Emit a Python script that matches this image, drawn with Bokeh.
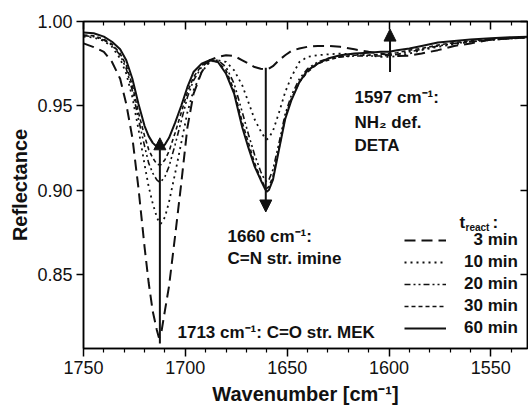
from bokeh.plotting import figure
from bokeh.models import (LinearAxis, FixedTicker, Range1d, Label, Arrow, NormalHead,
                          Legend, LegendItem, PrintfTickFormatter, CustomJSTickFormatter)
from bokeh.embed import file_html
from bokeh.resources import INLINE

# ---------------- data ----------------
wavenumber = [1750, 1745, 1740, 1736, 1732, 1729, 1726, 1723, 1720, 1718,
              1716, 1714, 1713, 1712, 1710, 1708, 1705, 1702, 1699, 1696,
              1692, 1688, 1684, 1680, 1676, 1672, 1669, 1666, 1663, 1661,
              1660, 1659, 1657, 1654, 1651, 1648, 1644, 1640, 1635, 1630,
              1624, 1617, 1610, 1604, 1600, 1596, 1590, 1584, 1576, 1568,
              1560, 1550, 1540, 1532]

r_3min = [0.987, 0.9848, 0.982, 0.976, 0.966, 0.951, 0.931, 0.901, 0.866, 0.845,
          0.828, 0.817, 0.8125, 0.814, 0.8286, 0.843, 0.873, 0.904, 0.937, 0.957,
          0.970, 0.977, 0.979, 0.980, 0.9795, 0.977, 0.975, 0.973, 0.972, 0.9718,
          0.9718, 0.972, 0.9735, 0.977, 0.980, 0.9825, 0.984, 0.985, 0.9855, 0.9855,
          0.985, 0.9835, 0.982, 0.981, 0.980, 0.9795, 0.9797, 0.981, 0.983, 0.9855,
          0.987, 0.9893, 0.990, 0.9905]

r_10min = [0.991, 0.9905, 0.9885, 0.985, 0.978, 0.969, 0.955, 0.936, 0.915, 0.902,
           0.892, 0.884, 0.881, 0.880, 0.884, 0.893, 0.910, 0.928, 0.946, 0.959,
           0.970, 0.976, 0.977, 0.976, 0.971, 0.962, 0.952, 0.942, 0.935, 0.931,
           0.930, 0.931, 0.935, 0.946, 0.958, 0.967, 0.976, 0.979, 0.980, 0.9805,
           0.981, 0.9805, 0.980, 0.979, 0.979, 0.9795, 0.981, 0.983, 0.985, 0.9865,
           0.988, 0.989, 0.990, 0.9905]

r_20min = [0.9915, 0.991, 0.989, 0.986, 0.980, 0.972, 0.959, 0.942, 0.926, 0.916,
           0.910, 0.906, 0.905, 0.905, 0.908, 0.914, 0.927, 0.941, 0.955, 0.965,
           0.973, 0.977, 0.977, 0.973, 0.963, 0.946, 0.933, 0.921, 0.911, 0.906,
           0.905, 0.906, 0.912, 0.928, 0.945, 0.956, 0.966, 0.972, 0.976, 0.978,
           0.979, 0.9795, 0.9795, 0.9795, 0.980, 0.9805, 0.982, 0.9835, 0.9855, 0.987,
           0.988, 0.989, 0.990, 0.9905]

r_30min = [0.992, 0.9915, 0.9895, 0.9865, 0.981, 0.974, 0.962, 0.946, 0.932, 0.924,
           0.919, 0.9155, 0.915, 0.915, 0.918, 0.923, 0.934, 0.946, 0.958, 0.967,
           0.974, 0.977, 0.976, 0.971, 0.959, 0.940, 0.928, 0.916, 0.907, 0.902,
           0.901, 0.902, 0.908, 0.925, 0.943, 0.954, 0.964, 0.970, 0.975, 0.977,
           0.979, 0.980, 0.980, 0.9805, 0.981, 0.9815, 0.983, 0.984, 0.986, 0.9875,
           0.9885, 0.9895, 0.990, 0.9905]

r_60min = [0.9935, 0.993, 0.991, 0.988, 0.9835, 0.977, 0.966, 0.951, 0.938, 0.932,
           0.928, 0.9257, 0.925, 0.925, 0.927, 0.931, 0.940, 0.950, 0.961, 0.970,
           0.975, 0.977, 0.976, 0.969, 0.957, 0.937, 0.925, 0.914, 0.906, 0.901,
           0.899, 0.900, 0.906, 0.924, 0.942, 0.953, 0.964, 0.971, 0.975, 0.978,
           0.980, 0.981, 0.9815, 0.982, 0.982, 0.983, 0.984, 0.9855, 0.9875, 0.9885,
           0.9893, 0.990, 0.9907, 0.991]

series_labels = ["3 min", "10 min", "20 min", "30 min", "60 min"]
series_values = [r_3min, r_10min, r_20min, r_30min, r_60min]

x_ticks = [1550, 1600, 1650, 1700, 1750]
y_ticks = [0.85, 0.90, 0.95, 1.00]

# band annotations: position, arrow start/end reflectance
band_wn = [1712.5, 1660.5, 1599.5]
arrow_from = [0.809, 0.9725, 0.970]
arrow_to = [0.931, 0.887, 0.9955]

# ---------------- figure ----------------
FONT = "Liberation Sans"
X0, X1 = 1750, 1532
Y0, Y1 = 0.806, 1.0
FL, FR, FT, FB = 83, 527, 21, 348


def wx(px):
    return X0 + (px - FL) * (X1 - X0) / (FR - FL)


def ry(py):
    return Y1 - (py - FT) * (Y1 - Y0) / (FB - FT)


p = figure(width=528, height=408, output_backend="svg", toolbar_location=None,
           x_range=Range1d(X0, X1), y_range=Range1d(Y0, Y1),
           x_axis_location=None, y_axis_location=None,
           min_border_left=FL, min_border_right=528 - FR, min_border_top=FT,
           min_border_bottom=408 - FB)
p.xgrid.visible = False
p.ygrid.visible = False
p.outline_line_color = "black"
p.outline_line_width = 1.5
p.background_fill_color = "white"
p.border_fill_color = "white"

minor_x = [v for v in range(1530, 1760, 10) if v % 50 != 0]
blank = CustomJSTickFormatter(code="return ''")


def style_axis(ax):
    ax.axis_line_color = "black"
    ax.axis_line_width = 1.5
    ax.major_tick_line_color = "black"
    ax.major_tick_line_width = 1.5
    ax.minor_tick_line_color = "black"
    ax.minor_tick_line_width = 1.2
    ax.major_label_text_font = FONT
    ax.major_label_text_font_size = "18px"
    ax.major_label_text_color = "#111111"
    ax.axis_label_text_font = FONT
    ax.axis_label_text_font_size = "20px"
    ax.axis_label_text_font_style = "bold"
    ax.axis_label_text_color = "#111111"


xb = LinearAxis(ticker=FixedTicker(ticks=x_ticks, minor_ticks=minor_x),
                axis_label="Wavenumber [cm⁻¹]")
style_axis(xb)
xb.major_tick_out = 8
xb.major_tick_in = 0
xb.minor_tick_out = 4
xb.minor_tick_in = 0
xb.major_label_standoff = 4
xb.axis_label_standoff = 6
p.add_layout(xb, "below")

xt = LinearAxis(ticker=FixedTicker(ticks=x_ticks, minor_ticks=minor_x), formatter=blank)
style_axis(xt)
xt.major_tick_out = 0
xt.major_tick_in = 8
xt.minor_tick_out = 0
xt.minor_tick_in = 4
xt.major_label_standoff = 0
xt.major_label_text_font_size = "1px"
p.add_layout(xt, "above")

yl = LinearAxis(ticker=FixedTicker(ticks=y_ticks, minor_ticks=[]),
                formatter=PrintfTickFormatter(format="%.2f"),
                axis_label="Reflectance")
style_axis(yl)
yl.major_tick_out = 7
yl.major_tick_in = 0
yl.minor_tick_out = 0
yl.major_label_standoff = 4
yl.axis_label_standoff = 3
p.add_layout(yl, "left")

yr = LinearAxis(ticker=FixedTicker(ticks=y_ticks, minor_ticks=[]), formatter=blank)
style_axis(yr)
yr.major_tick_out = 0
yr.major_tick_in = 7
yr.minor_tick_out = 0
yr.major_label_standoff = 0
yr.major_label_text_font_size = "1px"
p.add_layout(yr, "right")

styles = [
    dict(line_dash="11 6", line_width=2.0),
    dict(line_dash="2 4", line_width=1.8),
    dict(line_dash="6 3 2 3 2 3", line_width=1.6),
    dict(line_dash="4 3", line_width=1.6),
    dict(line_dash="solid", line_width=2.0),
]

items = []
for lab, vals, st in zip(series_labels, series_values, styles):
    r = p.line(wavenumber, vals, line_color="#111111", **st)
    disp = lab if len(lab) > 5 else "\u2007" + lab
    items.append(LegendItem(label=disp, renderers=[r]))

legend = Legend(items=items, location=(404 - FL, 10),
                glyph_width=42, glyph_height=20, label_height=20,
                label_standoff=18, spacing=2, padding=0, margin=0,
                border_line_color=None, background_fill_alpha=0,
                label_text_font=FONT, label_text_font_style="bold",
                label_text_font_size="17px", label_text_color="#111111")
p.add_layout(legend)

# arrows
for xw, y0, y1 in zip(band_wn, arrow_from, arrow_to):
    p.add_layout(Arrow(x_start=xw, y_start=y0, x_end=xw, y_end=y1,
                       line_width=2, line_color="#111111",
                       end=NormalHead(size=12, fill_color="#111111",
                                      line_color="#111111", line_width=1)))


def lab(px, py, text, size="17px"):
    p.add_layout(Label(x=wx(px), y=ry(py), text=text, text_font=FONT,
                       text_font_size=size, text_font_style="bold",
                       text_color="#111111", text_baseline="alphabetic"))


lab(227, 236, "1660 cm⁻¹:")
lab(227, 258, "C=N str. imine")
lab(177, 332, "1713 cm⁻¹: C=O str. MEK")
lab(354, 97, "1597 cm⁻¹:")
lab(354, 122, "NH₂ def.")
lab(354, 145, "DETA")
# legend title t_react:
lab(459, 222, "t")
lab(465, 227, "react", size="10px")
lab(492, 222, ":")

open("out.html", "w").write(file_html(p, INLINE))
